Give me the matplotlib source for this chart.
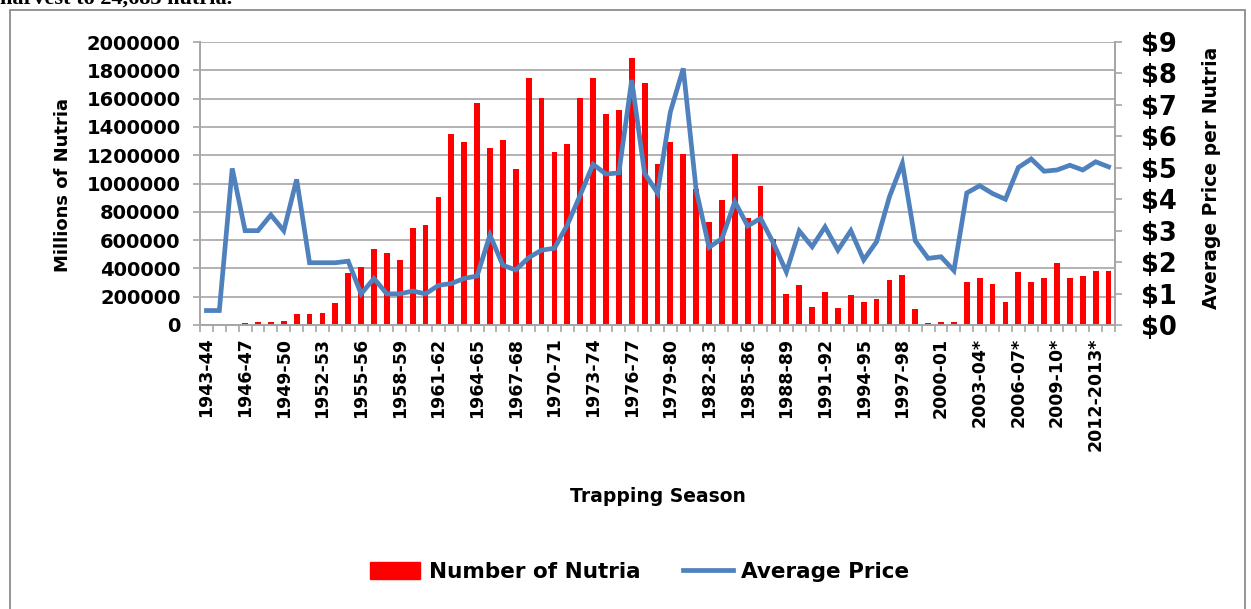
import numpy as np
import matplotlib
matplotlib.use("Agg")
import matplotlib.pyplot as plt
from matplotlib.patches import Patch, Rectangle
from matplotlib.lines import Line2D

seasons = [
    "1943-44", "1944-45", "1945-46", "1946-47", "1947-48", "1948-49", "1949-50",
    "1950-51", "1951-52", "1952-53", "1953-54", "1954-55", "1955-56", "1956-57",
    "1957-58", "1958-59", "1959-60", "1960-61", "1961-62", "1962-63", "1963-64",
    "1964-65", "1965-66", "1966-67", "1967-68", "1968-69", "1969-70", "1970-71",
    "1971-72", "1972-73", "1973-74", "1974-75", "1975-76", "1976-77", "1977-78",
    "1978-79", "1979-80", "1980-81", "1981-82", "1982-83", "1983-84", "1984-85",
    "1985-86", "1986-87", "1987-88", "1988-89", "1989-90", "1990-91", "1991-92",
    "1992-93", "1993-94", "1994-95", "1995-96", "1996-97", "1997-98", "1998-99",
    "1999-00", "2000-01", "2001-02", "2002-03*", "2003-04*", "2004-05*", "2005-06*",
    "2006-07*", "2007-08*", "2008-09*", "2009-10*", "2010-11*", "2011-12*",
    "2012-2013*", "2013-14*",
]

nutria = [
    0, 0, 0,
    12000, 19000, 19000, 28000, 75000, 75000, 85000, 155000, 365000,
    407000, 534000, 508000, 456000, 689000, 708000, 908000, 1351000, 1296000, 1569000, 1252000, 1306000,
    1106000, 1748000, 1602000, 1224000, 1278000, 1602000, 1748000, 1494000, 1522000, 1885000, 1713000, 1141000,
    1296000, 1207000, 960000, 725000, 880000, 1207000, 753000, 981000, 607000, 219000, 282000, 129000,
    235000, 118000, 209000, 165000, 184000, 318000, 353000, 111000, 12000, 19000, 19000, 301000,
    329000, 292000, 165000, 372000, 301000, 329000, 435000, 329000, 346000, 381000, 381000,
]

price = [
    0.46, 0.46, 4.98, 3.0, 3.0, 3.5, 3.0, 4.63, 1.98, 1.98, 1.98, 2.03,
    0.99, 1.48, 0.99, 0.99, 1.08, 0.99, 1.26, 1.32, 1.48, 1.56, 2.86, 1.9,
    1.75, 2.14, 2.38, 2.44, 3.18, 4.13, 5.11, 4.8, 4.84, 7.79, 4.82, 4.2,
    6.78, 8.16, 4.29, 2.47, 2.75, 3.92, 3.15, 3.39, 2.6, 1.69, 2.99, 2.49,
    3.12, 2.38, 3.0, 2.07, 2.65, 4.08, 5.14, 2.68, 2.12, 2.17, 1.73, 4.2,
    4.43, 4.18, 4.0, 5.01, 5.28, 4.89, 4.93, 5.08, 4.93, 5.19, 5.03,
]

left_ticks = [0, 200000, 400000, 600000, 800000, 1000000, 1200000, 1400000, 1600000, 1800000, 2000000]
right_ticks = [0, 1, 2, 3, 4, 5, 6, 7, 8, 9]

plt.rcParams['font.family'] = ['DejaVu Sans']
GRAY = '#A6A6A6'
RED = '#FF0000'
BLUE = '#4F81BD'

W, H = 1251, 609
fig = plt.figure(figsize=(W / 100, H / 100), dpi=100)
fig.patch.set_facecolor('white')

# outer chart frame
fig.patches.append(Rectangle((10 / W, -0.05), (1245 - 10) / W, 1 - 10 / H + 0.05,
                             transform=fig.transFigure, fill=False,
                             edgecolor='#8C8C8C', linewidth=1.3))
# document text above the chart, partly cut off at the top edge as in the reference
fig.text(0 / W, 1 - 4 / H, "harvest to 24,683 nutria.", family='Liberation Serif',
         fontsize=16, fontweight='bold', ha='left', va='baseline')

ax = fig.add_axes([200 / W, 1 - 325 / H, (1115 - 200) / W, (325 - 42) / H])
x = np.arange(len(seasons))

ax.bar(x, nutria, width=0.45, color=RED, zorder=2)
ax.set_xlim(-0.5, len(seasons) - 0.5)
ax.set_ylim(0, 2000000)
ax.set_yticks(left_ticks)
ax.set_yticklabels([str(v) for v in left_ticks], fontsize=14, fontweight='bold')
ax.yaxis.grid(True, color=GRAY, linewidth=1.2)
ax.set_axisbelow(True)

ax.set_xticks(x[::3])
ax.set_xticklabels(seasons[::3], rotation=90, fontsize=12.5, fontweight='bold')
ax.set_xticks(np.arange(-0.5, len(seasons), 1), minor=True)
ax.tick_params(axis='x', which='major', length=0, pad=9)
ax.tick_params(axis='x', which='minor', length=5, width=1.2, color=GRAY)
ax.tick_params(axis='y', which='major', length=5, width=1.2, color=GRAY, pad=9)

ax.spines['top'].set_visible(False)
for s in ['left', 'bottom', 'right']:
    ax.spines[s].set_color(GRAY)
    ax.spines[s].set_linewidth(1.4)

ax.set_ylabel("Millions of Nutria", fontsize=13, fontweight='bold')
ax.yaxis.set_label_coords((72 - 200) / 915, 0.495)

ax2 = ax.twinx()
ax2.plot(x, price, color=BLUE, linewidth=3.4, solid_joinstyle='miter', zorder=3)
ax2.set_ylim(0, 9)
ax2.set_yticks(right_ticks)
ax2.set_yticklabels([f"${v}" for v in right_ticks], fontsize=18.5, fontweight='bold')
ax2.tick_params(axis='y', length=5, width=1.2, color=GRAY, pad=14)
for s in ['top', 'left', 'bottom']:
    ax2.spines[s].set_visible(False)
ax2.spines['right'].set_color(GRAY)
ax2.spines['right'].set_linewidth(1.4)
ax2.set_ylabel("Average Price per Nutria", fontsize=13.5, fontweight='bold')
ax2.yaxis.set_label_coords((1202 - 200) / 915, 0.52)

fig.text(658 / W, 1 - 497 / H, "Trapping Season", fontsize=13.5, fontweight='bold',
         ha='center', va='center')

handles = [Patch(facecolor=RED, edgecolor=RED),
           Line2D([0], [0], color=BLUE, linewidth=3.4)]
fig.legend(handles, ["Number of Nutria", "Average Price"], loc='center',
           bbox_to_anchor=(640 / W, 1 - 572 / H), ncol=2, frameon=False,
           prop={'size': 15.5, 'weight': 'bold'}, handlelength=2.3,
           handleheight=0.8, handletextpad=0.4, columnspacing=2.0)

fig.savefig("out.png", dpi=100, facecolor='white')
